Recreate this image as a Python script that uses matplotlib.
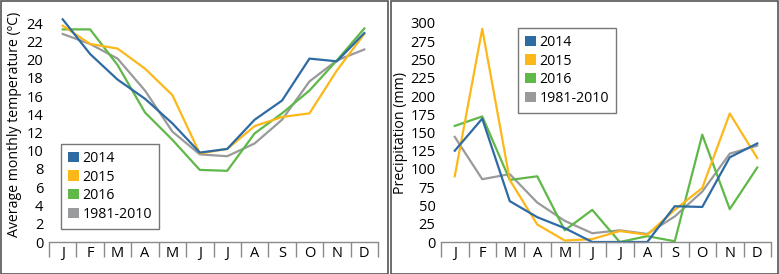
import matplotlib.pyplot as plt
from matplotlib.patches import Rectangle, Patch

plt.rcParams['font.family'] = ['Open Sans', 'DejaVu Sans']

months = ['J', 'F', 'M', 'A', 'M', 'J', 'J', 'A', 'S', 'O', 'N', 'D']
series_names = ['2014', '2015', '2016', '1981-2010']

temp_2014 = [24.4, 20.6, 17.8, 15.7, 13.0, 9.8, 10.2, 13.4, 15.5, 20.1, 19.8, 22.9]
temp_2015 = [23.7, 21.7, 21.2, 19.0, 16.1, 9.7, 10.2, 12.7, 13.7, 14.1, 18.8, 22.8]
temp_2016 = [23.3, 23.3, 19.4, 14.2, 11.2, 7.9, 7.8, 11.9, 14.1, 16.6, 19.9, 23.4]
temp_normal = [22.8, 21.7, 20.1, 16.6, 12.1, 9.6, 9.4, 10.8, 13.4, 17.6, 19.9, 21.1]

prec_2014 = [125, 169, 56, 34, 19, 0, 0, 0, 49, 48, 116, 135]
prec_2015 = [90, 292, 85, 24, 2, 4, 15, 10, 44, 74, 176, 115]
prec_2016 = [159, 172, 85, 90, 16, 44, 0, 8, 1, 147, 45, 102]
prec_normal = [144, 86, 93, 54, 29, 12, 16, 11, 35, 69, 121, 132]

colors = ['#2e6ba3', '#fbb818', '#5fb847', '#999a9c']

fig = plt.figure(figsize=(7.79, 2.74), dpi=100)

# panel frames
fig.patches.append(Rectangle((0.5 / 779, 0.5 / 274), 387 / 779, 272.5 / 274, transform=fig.transFigure,
                             fill=False, edgecolor='#555555', linewidth=1.2))
fig.patches.append(Rectangle((390.5 / 779, 0.5 / 274), 387.5 / 779, 272.5 / 274, transform=fig.transFigure,
                             fill=False, edgecolor='#555555', linewidth=1.2))

ax1 = fig.add_axes([49 / 779, 32 / 274, 329 / 779, 219 / 274])
ax2 = fig.add_axes([441 / 779, 32 / 274, 330 / 779, 219 / 274])


def style(ax, ymax, step):
    x = list(range(len(months)))
    ax.set_xlim(-0.5, 11.5)
    ax.set_ylim(0, ymax)
    ax.set_yticks(range(0, ymax + 1, step))
    ax.set_xticks(x)
    ax.set_xticklabels(months)
    ax.set_xticks([i - 0.5 for i in range(len(months) + 1)], minor=True)
    ax.tick_params(axis='x', which='major', length=0, pad=3, labelsize=10.5)
    ax.tick_params(axis='x', which='minor', length=11, width=1, color='#8a8a8a', direction='out')
    ax.tick_params(axis='y', length=0, pad=4, labelsize=10.5)
    for s in ['top', 'right', 'left']:
        ax.spines[s].set_visible(False)
    ax.spines['bottom'].set_color('#8a8a8a')
    ax.spines['bottom'].set_linewidth(1)


style(ax1, 24, 2)
style(ax2, 300, 25)

x = list(range(len(months)))
for vals, c in zip([temp_2014, temp_2015, temp_2016, temp_normal][::-1], colors[::-1]):
    ax1.plot(x, vals, color=c, linewidth=1.6, clip_on=False)
for vals, c in zip([prec_2014, prec_2015, prec_2016, prec_normal][::-1], colors[::-1]):
    ax2.plot(x, vals, color=c, linewidth=1.6, clip_on=False)

fig.text(15 / 779, 0.545, 'Average monthly temperature (ºC)', rotation=90, ha='center', va='center', fontsize=10.2)
fig.text(400 / 779, 0.515, 'Precipitation (mm)', rotation=90, ha='center', va='center', fontsize=10.2)

handles = [Patch(facecolor=c, edgecolor='none') for c in colors]
for anchor in [(61 / 779, 1 - 144 / 274), (518 / 779, 1 - 28 / 274)]:
    leg = fig.legend(handles, series_names, loc='upper left', bbox_to_anchor=anchor,
                     fontsize=10.2, frameon=True, fancybox=False, handlelength=0.75, handleheight=0.75,
                     handletextpad=0.25, labelspacing=0.25, borderpad=0.5, borderaxespad=0)
    leg.get_frame().set_edgecolor('#555555')
    leg.get_frame().set_linewidth(1)

fig.savefig('out.png', dpi=100)
